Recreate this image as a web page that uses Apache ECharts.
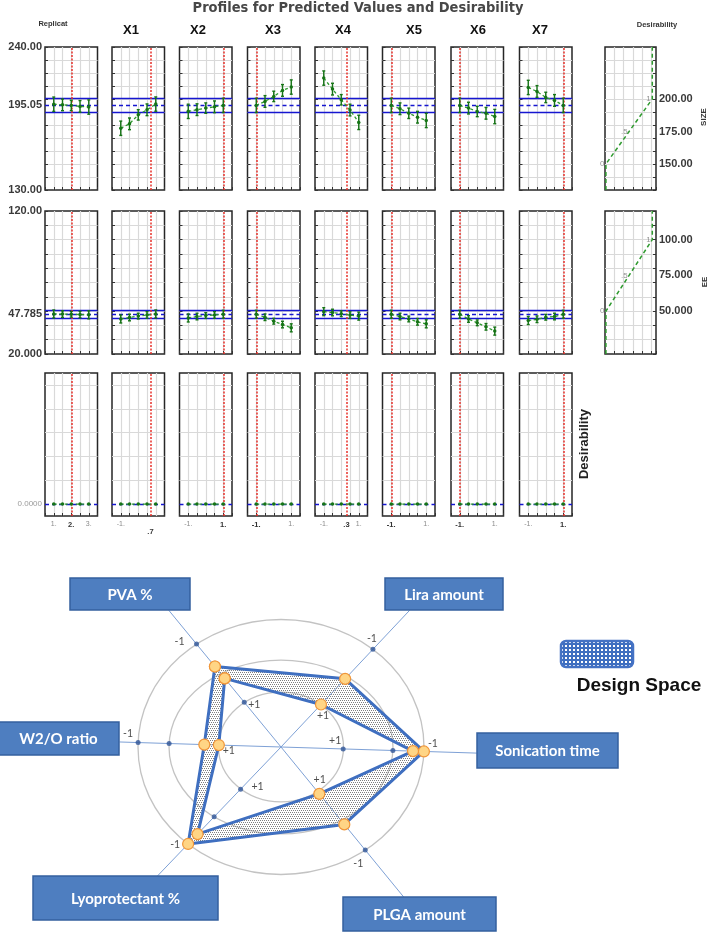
<!DOCTYPE html>
<html>
<head>
<meta charset="utf-8">
<script src="https://cdn.jsdelivr.net/npm/echarts@6.0.0/dist/echarts.min.js"></script>
<style>
html,body{margin:0;padding:0;background:#ffffff;}
#chart{width:708px;height:932px;}
</style>
</head>
<body>
<div id="chart"></div>
<script>
// ================= DATA =================
const factorNames = ['Replicat', 'X1', 'X2', 'X3', 'X4', 'X5', 'X6', 'X7'];
const replicatLevels = [1, 1.5, 2, 2.5, 3];
const codedLevels = [-1, -0.5, 0, 0.5, 1];
const currentSetting = [2, 0.7, 1, -1, 0.3, -1, -1, 1];
const currentLabels = ['2.', '.7', '1.', '-1.', '.3', '-1.', '-1.', '1.'];

// SIZE: predicted profile per factor (one row per factor)
const sizePred = [
  [196.0, 195.5, 195.05, 194.3, 193.8],
  [177.5, 180.9, 187.8, 191.7, 196.1],
  [190.5, 191.8, 193.0, 194.0, 195.05],
  [195.05, 198.1, 202.0, 206.6, 209.2],
  [216.1, 207.6, 199.4, 191.5, 182.0],
  [195.05, 192.5, 189.0, 186.0, 183.5],
  [195.05, 193.0, 190.4, 189.0, 186.5],
  [208.9, 205.8, 201.2, 198.9, 195.05]
];
const sizeErr = [5.5, 4.5, 4.0, 4.5, 5.5];
const sizeLimits = [189.9, 195.05, 200.2];
const sizeTickLabels = [130, 195.05, 240];

// EE: predicted profile per factor
const eePred = [
  [48.0, 47.9, 47.785, 47.6, 47.4],
  [44.5, 45.5, 46.5, 47.3, 48.0],
  [45.2, 46.2, 46.9, 47.3, 47.785],
  [47.785, 45.7, 42.9, 40.6, 38.3],
  [49.6, 49.0, 48.2, 47.2, 46.5],
  [47.785, 46.2, 44.5, 42.5, 41.1],
  [47.785, 44.5, 41.8, 39.0, 36.0],
  [43.4, 44.3, 45.7, 46.2, 47.785]
];
const eeErr = [2.8, 2.3, 2.0, 2.3, 2.8];
const eeLimits = [44.8, 47.785, 50.6];
const eeTickLabels = [20, 47.785, 120];

// Desirability profile (all factors)
const desirProfile = [0, 0, 0, 0, 0];
const desirValue = 0;
const desirTickLabels = [0];
const desirGridValues = [0.2, 0.4, 0.6, 0.8, 1.0];

// Desirability functions
const desFnX = [0, 0, 0.5, 1, 1];
const sizeDesFnY = [130, 150, 175, 200, 240];
const eeDesFnY = [20, 50, 75, 100, 120];
const desFnMarks = ['', '0', '.5', '1', ''];
const sizeDesTickLabels = [150, 175, 200];
const eeDesTickLabels = [50, 75, 100];

// Design space (coded levels, -1 outer ring, +1 inner ring)
const radarAxes = ['PVA %', 'Lira amount', 'Sonication time', 'PLGA amount', 'Lyoprotectant %', 'W2/O ratio'];
const dsOuter = [-0.23, 0.07, -1, -0.12, -1, 0.64];
const dsInner = [0.18, 1, -0.73, 0.93, -0.64, 1];
const axisDotLevels = [-1, 1];
const axisDotText = ['-1', '+1'];
const midDotAxes = [2, 4, 5];

// ================= LAYOUT / STYLE =================
const colLeft = [45, 112, 179.5, 247.5, 315, 382.5, 451, 519.5];
const colWidth = 52.5;
const rowTop = [47, 211, 373];
const rowHeight = 143;
const desLeft = 605, desWidth = 51;
const headerX = [53, 131, 198, 273, 343, 414, 478, 540];

const FONT = '"Liberation Sans", Arial, sans-serif';
const GREEN_LINE = '#2F9A2F', GREEN_DARK = '#167416', BLUE = '#1616D0', RED = '#E8312A', GRIDC = '#D9D9D9';

// radar layout
const RC = [281, 747], RSX = 143, RSY = 127.5;
const axisAngle = [126.2, 50.0, -2.0, -53.9, 229.5, 178.0];
const axisReach = [1.33, 1.40, 1.37, 1.46, 1.33, 1.13];
const innerRho = 0.435;
const ringRadii = [[1, 1], [0.783, 0.682], [0.437, 0.431]];
const dotLabelOffset = [
  [[-17, -3], [10, 2]],
  [[-1, -11], [2, 11]],
  [[9, -8], [-8, -8]],
  [[-7, 14], [2, -12]],
  [[-13, 1], [17, -3]],
  [[-10, -9], [10, 6]]
];
const boxLayout = [
  {x: 70, y: 578, w: 120, h: 32},
  {x: 385, y: 578, w: 118, h: 32},
  {x: 477, y: 733, w: 141, h: 35},
  {x: 343, y: 897, w: 153, h: 34},
  {x: 33, y: 876, w: 185, h: 44},
  {x: -2, y: 722, w: 121, h: 33}
];

// ================= BUILD =================
const chart = echarts.init(document.getElementById('chart'), null, {renderer: 'canvas', width: 708, height: 932});
const grids = [], xAxes = [], yAxes = [], series = [];

function fmt5(v) { return Number(v).toPrecision(5); }

function errRender(params, api) {
  const x = api.value(0), lo = api.value(1), hi = api.value(2);
  const a = api.coord([x, hi]), b = api.coord([x, lo]);
  const st = {stroke: GREEN_DARK, lineWidth: 1.4};
  return {type: 'group', children: [
    {type: 'line', shape: {x1: a[0], y1: a[1], x2: b[0], y2: b[1]}, style: st},
    {type: 'line', shape: {x1: a[0] - 1.5, y1: a[1], x2: a[0] + 1.5, y2: a[1]}, style: st},
    {type: 'line', shape: {x1: b[0] - 1.5, y1: b[1], x2: b[0] + 1.5, y2: b[1]}, style: st}
  ]};
}

const rowDefs = [
  {min: 130, max: 240, interval: 10, pred: sizePred, err: sizeErr, limits: sizeLimits, ticks: sizeTickLabels},
  {min: 20, max: 120, interval: 10, pred: eePred, err: eeErr, limits: eeLimits, ticks: eeTickLabels},
  {min: -0.1, max: 1.1, interval: null, pred: null, err: null, limits: null, ticks: desirTickLabels}
];

const gridStyle = {show: true, borderColor: '#262626', borderWidth: 1.5, backgroundColor: 'transparent'};

rowDefs.forEach((row, r) => {
  factorNames.forEach((fname, c) => {
    const gi = grids.length;
    grids.push(Object.assign({left: colLeft[c], top: rowTop[r], width: colWidth, height: rowHeight}, gridStyle));
    const isRep = c === 0;
    const levels = isRep ? replicatLevels : codedLevels;
    const cur = currentSetting[c];
    const xVals = isRep ? [1, 2, 3] : Array.from(new Set([-1, cur, 1])).sort((a, b) => a - b);
    xAxes.push({
      gridIndex: gi, type: 'value', position: 'bottom', min: isRep ? 0.5 : -1.5, max: isRep ? 3.5 : 1.5, interval: 0.5,
      axisLine: {show: false, onZero: false},
      axisTick: {show: true, inside: true, length: 3, lineStyle: {color: '#333', width: 1}},
      splitLine: {show: true, showMinLine: false, showMaxLine: false, lineStyle: {color: GRIDC, width: 1.2}},
      axisLabel: {
        show: r === 2, customValues: xVals, margin: 5, fontSize: 7, color: '#8a8a8a', fontFamily: FONT,
        formatter: (v) => {
          const isCur = Math.abs(v - cur) < 1e-6;
          let s = isRep ? (v + '.') : (isCur ? currentLabels[c] : (v < 0 ? '-1.' : '1.'));
          if (isCur) { s = '{b|' + s + '}'; if (c === 1) s = '\n' + s; }
          return s;
        },
        rich: {b: {fontSize: 7.5, fontWeight: 'bold', color: '#333', fontFamily: FONT}}
      }
    });
    const yAx = {
      gridIndex: gi, type: 'value', position: 'left', min: row.min, max: row.max,
      axisLine: {show: false, onZero: false},
      axisTick: {show: r < 2, inside: true, length: 3, lineStyle: {color: '#333', width: 1}},
      splitLine: {show: r < 2, showMinLine: false, showMaxLine: false, lineStyle: {color: GRIDC, width: 1.2}},
      axisLabel: {show: c === 0, customValues: row.ticks, formatter: fmt5, margin: 3,
        fontSize: r < 2 ? 11 : 8, fontWeight: r < 2 ? 'bold' : 'normal', color: r < 2 ? '#3a3a3a' : '#9a9a9a', fontFamily: FONT}
    };
    if (row.interval) yAx.interval = row.interval;
    yAxes.push(yAx);

    const pred = r === 2 ? desirProfile : row.pred[c];
    const mk = [];
    if (r === 2) {
      desirGridValues.forEach(v => mk.push({yAxis: v, lineStyle: {color: GRIDC, width: 1.2, type: 'solid'}}));
      mk.push({yAxis: desirValue, lineStyle: {color: BLUE, width: 1.4, type: [4, 3]}});
    } else {
      mk.push({yAxis: row.limits[0], lineStyle: {color: BLUE, width: 1.4, type: 'solid'}});
      mk.push({yAxis: row.limits[2], lineStyle: {color: BLUE, width: 1.4, type: 'solid'}});
      mk.push({yAxis: row.limits[1], lineStyle: {color: BLUE, width: 1.4, type: [4, 3]}});
    }
    mk.push({xAxis: cur, lineStyle: {color: RED, width: 1.5, type: [2, 1.5]}});
    series.push({type: 'scatter', xAxisIndex: gi, yAxisIndex: gi, data: [[levels[0], pred[0]]], symbolSize: 0,
      silent: true, z: 2, markLine: {silent: true, symbol: ['none', 'none'], label: {show: false}, animation: false, data: mk}});
    series.push({type: 'line', xAxisIndex: gi, yAxisIndex: gi, data: levels.map((x, i) => [x, pred[i]]),
      symbol: 'circle', symbolSize: 3.5, itemStyle: {color: GREEN_DARK}, showSymbol: true,
      lineStyle: {color: GREEN_LINE, width: 1.3, type: [3, 2.5]}, z: 6, silent: true});
    if (r < 2) {
      series.push({type: 'custom', xAxisIndex: gi, yAxisIndex: gi, renderItem: errRender, z: 5, silent: true,
        encode: {x: 0, y: [1, 2]},
        data: levels.map((x, i) => [x, pred[i] - row.err[i], pred[i] + row.err[i]])});
    }
  });
});

// Desirability function panels
[0, 1].forEach(r => {
  const row = rowDefs[r];
  const gi = grids.length;
  grids.push(Object.assign({left: desLeft, top: rowTop[r], width: desWidth, height: rowHeight}, gridStyle));
  xAxes.push({gridIndex: gi, type: 'value', position: 'bottom', min: -0.02, max: 1.08, interval: 0.2,
    axisLine: {show: false, onZero: false},
    axisTick: {show: true, inside: true, length: 3, lineStyle: {color: '#333'}},
    splitLine: {show: true, showMinLine: false, showMaxLine: false, lineStyle: {color: GRIDC, width: 1.2}},
    axisLabel: {show: false}});
  yAxes.push({gridIndex: gi, type: 'value', position: 'right', min: row.min, max: row.max, interval: row.interval,
    axisLine: {show: false, onZero: false},
    axisTick: {show: true, inside: true, length: 3, lineStyle: {color: '#333'}},
    splitLine: {show: true, showMinLine: false, showMaxLine: false, lineStyle: {color: GRIDC, width: 1.2}},
    axisLabel: {show: true, customValues: r === 0 ? sizeDesTickLabels : eeDesTickLabels, formatter: fmt5,
      fontSize: 11, fontWeight: 'bold', color: '#3a3a3a', margin: 3, fontFamily: FONT}});
  const ys = r === 0 ? sizeDesFnY : eeDesFnY;
  series.push({type: 'line', xAxisIndex: gi, yAxisIndex: gi, data: desFnX.map((x, i) => [x, ys[i]]),
    symbol: 'none', lineStyle: {color: GREEN_LINE, width: 1.5, type: [4, 3]}, z: 5, silent: true});
  series.push({type: 'scatter', xAxisIndex: gi, yAxisIndex: gi, silent: true, z: 6, symbolSize: 1,
    itemStyle: {color: 'rgba(0,0,0,0)'},
    label: {show: true, position: 'left', distance: 1, fontSize: 8, color: '#777', fontFamily: FONT},
    data: desFnX.map((x, i) => ({value: [x, ys[i]], label: {show: !!desFnMarks[i], formatter: desFnMarks[i]}}))});
});

// ================= DESIGN SPACE RADAR =================
function makePattern(bg, dot, size, pts, dotSize) {
  const cv = document.createElement('canvas');
  cv.width = size; cv.height = size;
  const ctx = cv.getContext('2d');
  if (bg) { ctx.fillStyle = bg; ctx.fillRect(0, 0, size, size); }
  ctx.fillStyle = dot;
  pts.forEach(p => ctx.fillRect(p[0], p[1], dotSize, dotSize));
  return cv;
}
const bandPattern = makePattern(null, '#7f7f7f', 4, [[0, 0], [2, 0], [1, 2], [3, 2]], 1);
const legendPattern = makePattern('#3F6FC0', '#ffffff', 4, [[1, 1]], 2);

function rhoOf(level) { return innerRho + (1 - level) / 2 * (1 - innerRho); }
function radarPt(i, level) {
  const a = axisAngle[i] * Math.PI / 180, rr = rhoOf(level);
  return [rr * Math.cos(a), rr * Math.sin(a)];
}
function midRingPt(i) {
  const a = axisAngle[i] * Math.PI / 180, ca = Math.cos(a), sa = Math.sin(a);
  const t = 1 / Math.sqrt(Math.pow(ca / ringRadii[1][0], 2) + Math.pow(sa / ringRadii[1][1], 2));
  return [t * ca, t * sa];
}

const RI = grids.length;
grids.push({left: RC[0] - 1.9 * RSX, top: RC[1] - 1.45 * RSY, width: 4.3 * RSX, height: 2.9 * RSY, show: false});
xAxes.push({gridIndex: RI, type: 'value', min: -1.9, max: 2.4, show: false});
yAxes.push({gridIndex: RI, type: 'value', min: -1.45, max: 1.45, show: false});

// rings
series.push({type: 'custom', xAxisIndex: RI, yAxisIndex: RI, z: 1, silent: true, data: ringRadii,
  renderItem: (p, api) => {
    const c = api.coord([0, 0]);
    const s = api.size([api.value(0), api.value(1)]);
    return {type: 'ellipse', shape: {cx: c[0], cy: c[1], rx: s[0], ry: s[1]},
      style: {fill: 'none', stroke: '#C3C3C3', lineWidth: 1.3}};
  }});
// axis rays
series.push({type: 'custom', xAxisIndex: RI, yAxisIndex: RI, z: 2, silent: true,
  data: axisAngle.map((a, i) => [axisReach[i] * Math.cos(a * Math.PI / 180), axisReach[i] * Math.sin(a * Math.PI / 180)]),
  renderItem: (p, api) => {
    const c = api.coord([0, 0]);
    const e = api.coord([api.value(0), api.value(1)]);
    return {type: 'line', shape: {x1: c[0], y1: c[1], x2: e[0], y2: e[1]}, style: {stroke: '#7EA1D6', lineWidth: 1}};
  }});
// design space band
const outerPts = dsOuter.map((v, i) => radarPt(i, v));
const innerPts = dsInner.map((v, i) => radarPt(i, v));
series.push({type: 'custom', xAxisIndex: RI, yAxisIndex: RI, z: 3, silent: true, data: [[0, 0]],
  renderItem: (p, api) => {
    const o = outerPts.map(q => api.coord(q));
    const inn = innerPts.map(q => api.coord(q)).reverse();
    const seg = pts => 'M' + pts.map(q => q[0].toFixed(2) + ' ' + q[1].toFixed(2)).join(' L') + ' Z';
    return {type: 'path', shape: {pathData: seg(o) + ' ' + seg(inn)},
      style: {fill: {image: bandPattern, repeat: 'repeat'}, stroke: 'none'}};
  }});
// axis dots
const dotData = [];
radarAxes.forEach((nm, i) => {
  axisDotLevels.forEach((lv, k) => {
    dotData.push({value: radarPt(i, lv), label: {show: true, formatter: axisDotText[k], offset: dotLabelOffset[i][k]}});
  });
});
midDotAxes.forEach(i => dotData.push({value: midRingPt(i), label: {show: false}}));
series.push({type: 'scatter', xAxisIndex: RI, yAxisIndex: RI, z: 4, silent: true, symbolSize: 5,
  itemStyle: {color: '#2F5597'},
  label: {position: 'inside', fontSize: 10.5, color: '#222', fontFamily: 'Lato, "Open Sans", sans-serif'},
  data: dotData});
// polygons
[outerPts, innerPts].forEach(pts => {
  series.push({type: 'line', xAxisIndex: RI, yAxisIndex: RI, z: 5, silent: true,
    data: pts.concat([pts[0]]), symbol: 'circle', symbolSize: 11, showSymbol: true,
    lineStyle: {color: '#3F6FC0', width: 3},
    itemStyle: {color: '#FFD585', borderColor: '#F0963A', borderWidth: 1.2}});
});

// ================= TEXT / ANNOTATIONS =================
function txt(x, y, s, font, fill, extra) {
  return Object.assign({type: 'text', x: x, y: y, silent: true, z: 50,
    style: {text: s, font: font, fill: fill, textAlign: 'center', textVerticalAlign: 'middle', align: 'center', verticalAlign: 'middle'}}, extra || {});
}
const graphics = [];
graphics.push(txt(358, 8, 'Profiles for Predicted Values and Desirability',
  'bold 14.5px "Liberation Sans Narrow", "DejaVu Sans Condensed", "Liberation Sans", sans-serif', '#474747'));
factorNames.forEach((nm, c) => {
  if (c === 0) graphics.push(txt(headerX[c], 24, nm, 'bold 7.5px ' + FONT, '#333'));
  else graphics.push(txt(headerX[c], 30, nm, 'bold 13px ' + FONT, '#111'));
});
graphics.push(txt(657, 25, 'Desirability', 'bold 7.5px ' + FONT, '#333'));
graphics.push(txt(704, 117, 'SIZE', 'bold 8px ' + FONT, '#333', {rotation: Math.PI / 2}));
graphics.push(txt(705, 282, 'EE', 'bold 8px ' + FONT, '#333', {rotation: Math.PI / 2}));
graphics.push(txt(584, 444, 'Desirability', 'bold 13px ' + FONT, '#222', {rotation: Math.PI / 2}));

radarAxes.forEach((nm, i) => {
  const b = boxLayout[i];
  graphics.push({type: 'rect', silent: true, z: 40, shape: {x: b.x, y: b.y, width: b.w, height: b.h},
    style: {fill: '#4E7EC0', stroke: '#35609E', lineWidth: 1.5}});
  graphics.push(txt(b.x + b.w / 2, b.y + b.h / 2 + 1, nm, 'bold 15px Lato, "Open Sans", sans-serif', '#ffffff'));
});
graphics.push({type: 'rect', silent: true, z: 40, shape: {x: 561, y: 641, width: 72, height: 26, r: 5},
  style: {fill: {image: legendPattern, repeat: 'repeat'}, stroke: '#4472C4', lineWidth: 2.5}});
graphics.push(txt(639, 686, 'Design Space', 'bold 19px ' + FONT, '#111'));

chart.setOption({
  animation: false,
  backgroundColor: '#ffffff',
  textStyle: {fontFamily: FONT},
  grid: grids,
  xAxis: xAxes,
  yAxis: yAxes,
  series: series,
  graphic: graphics
});
</script>
</body>
</html>
